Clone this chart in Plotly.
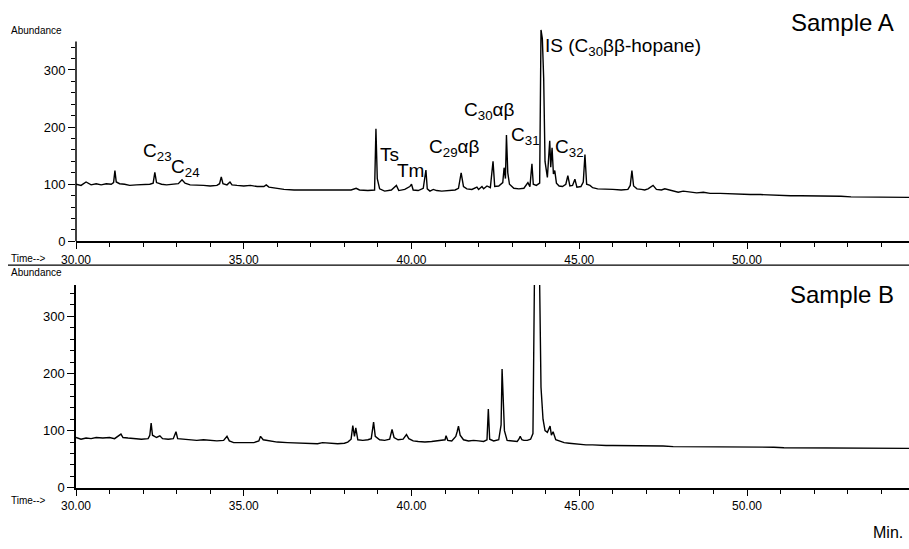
import plotly.graph_objects as go

# ---------------- data ----------------
time_a = [30.00, 30.15, 30.30, 30.45, 30.60, 30.75, 30.90, 31.05, 31.12, 31.16, 31.20, 31.30, 31.45, 31.60,
          31.80, 32.00, 32.20, 32.30, 32.35, 32.40, 32.55, 32.70, 32.90, 33.05, 33.16, 33.25, 33.40, 33.60,
          33.80, 34.00, 34.20, 34.28, 34.33, 34.38, 34.50, 34.59, 34.65, 34.80, 35.00, 35.20, 35.40, 35.60,
          35.67, 35.75, 35.95, 36.20, 36.50, 36.80, 37.10, 37.40, 37.70, 38.00, 38.20, 38.35, 38.45, 38.70,
          38.90, 38.94, 38.98, 39.05, 39.20, 39.40, 39.55, 39.62, 39.80, 39.95, 40.00, 40.05, 40.20, 40.35,
          40.43, 40.47, 40.55, 40.65, 40.75, 40.90, 41.10, 41.30, 41.40, 41.48, 41.55, 41.65, 41.80, 41.95,
          42.00, 42.10, 42.15, 42.25, 42.35, 42.43, 42.48, 42.60, 42.72, 42.76, 42.80, 42.83, 42.87, 42.92,
          43.05, 43.20, 43.35, 43.47, 43.53, 43.59, 43.63, 43.72, 43.82, 43.86, 43.90, 43.94, 43.98, 44.05,
          44.12, 44.15, 44.19, 44.23, 44.27, 44.32, 44.40, 44.50, 44.60, 44.66, 44.72, 44.80, 44.87, 44.93,
          45.05, 45.12, 45.17, 45.22, 45.32, 45.40, 45.55, 45.75, 46.00, 46.25, 46.45, 46.52, 46.57, 46.62,
          46.72, 46.85, 46.95, 47.05, 47.20, 47.30, 47.45, 47.55, 47.62, 47.75, 47.95, 48.10, 48.30, 48.50,
          48.70, 48.90, 49.20, 49.50, 49.80, 50.10, 50.40, 50.70, 51.00, 51.30, 51.60, 51.90, 52.20, 52.50,
          52.80, 53.10, 53.40, 53.70, 54.00, 54.30, 54.60, 54.83]
abund_a = [100, 98, 104, 99, 101, 99, 101, 100, 103, 124, 104, 101, 100, 98,
           99, 99, 100, 102, 121, 103, 100, 99, 100, 101, 108, 102, 99, 99,
           98, 97, 98, 101, 113, 101, 99, 104, 99, 98, 97, 98, 96, 96,
           99, 95, 93, 91, 90, 90, 89, 90, 89, 90, 90, 93, 90, 89,
           90, 197, 110, 92, 88, 90, 98, 89, 91, 96, 100, 90, 89, 93,
           125, 92, 88, 91, 89, 88, 89, 90, 93, 120, 96, 92, 91, 95,
           91, 96, 92, 97, 94, 140, 96, 97, 103, 129, 110, 186, 120, 100,
           93, 92, 93, 103, 96, 136, 100, 98, 102, 370, 355, 285, 140, 112,
           176, 130, 164, 118, 124, 102, 97, 96, 100, 115, 97, 98, 109, 95,
           96, 104, 152, 100, 98, 94, 92, 91, 91, 90, 91, 98, 124, 97,
           92, 91, 90, 92, 98, 91, 90, 92, 91, 88, 86, 88, 86, 85,
           86, 84, 84, 83, 83, 82, 82, 81, 81, 80, 80, 80, 79, 79,
           79, 78, 78, 78, 78, 77, 77, 77]

time_b = [30.00, 30.15, 30.30, 30.45, 30.60, 30.80, 31.00, 31.15, 31.34, 31.40, 31.55, 31.75, 31.95, 32.15,
          32.20, 32.24, 32.28, 32.40, 32.50, 32.58, 32.75, 32.90, 32.98, 33.03, 33.20, 33.40, 33.60, 33.80,
          34.00, 34.20, 34.40, 34.50, 34.57, 34.70, 35.00, 35.30, 35.45, 35.50, 35.58, 35.75, 36.00, 36.30,
          36.60, 36.90, 37.20, 37.35, 37.50, 37.80, 38.00, 38.10, 38.20, 38.25, 38.30, 38.34, 38.40, 38.55,
          38.70, 38.80, 38.87, 38.92, 39.05, 39.20, 39.35, 39.42, 39.48, 39.60, 39.75, 39.85, 39.92, 40.05,
          40.20, 40.40, 40.60, 40.80, 41.00, 41.03, 41.08, 41.20, 41.32, 41.36, 41.40, 41.45, 41.55, 41.70,
          41.85, 42.00, 42.15, 42.25, 42.29, 42.33, 42.45, 42.60, 42.67, 42.70, 42.73, 42.77, 42.85, 43.00,
          43.15, 43.20, 43.24, 43.29, 43.35, 43.45, 43.55, 43.62, 43.67, 43.81, 43.86, 43.92, 43.98, 44.05,
          44.10, 44.13, 44.17, 44.22, 44.30, 44.40, 44.55, 44.70, 44.85, 45.00, 45.20, 45.40, 45.60, 45.80,
          46.00, 46.30, 46.60, 46.90, 47.20, 47.50, 47.80, 48.10, 48.40, 48.70, 49.00, 49.30, 49.60, 49.90,
          50.20, 50.50, 50.80, 51.10, 51.40, 51.70, 52.00, 52.30, 52.60, 52.90, 53.20, 53.50, 53.80, 54.10,
          54.40, 54.83]
abund_b = [88, 85, 87, 86, 88, 87, 88, 86, 94, 88, 87, 86, 85, 86,
           92, 113, 92, 88, 91, 86, 85, 86, 98, 86, 85, 84, 83, 84,
           83, 82, 83, 90, 82, 79, 79, 79, 82, 90, 84, 82, 80, 79,
           78, 78, 77, 79, 78, 77, 78, 80, 85, 109, 90, 105, 84, 83,
           84, 86, 115, 90, 84, 83, 85, 102, 88, 84, 85, 93, 86, 82,
           81, 80, 81, 82, 84, 91, 83, 82, 90, 98, 108, 92, 84, 82,
           83, 82, 81, 84, 138, 85, 82, 84, 110, 208, 169, 100, 83, 82,
           81, 85, 90, 84, 83, 83, 85, 95, 400, 400, 176, 120, 100, 97,
           105, 108, 92, 98, 84, 82, 79, 78, 77, 76, 75, 75, 74, 74,
           74, 74, 73, 73, 73, 73, 72, 72, 72, 72, 72, 71, 71, 71,
           71, 71, 71, 70, 70, 70, 70, 70, 70, 70, 69, 69, 69, 69,
           69, 69]

x_major = [30, 35, 40, 45, 50]
x_major_text = ["30.00", "35.00", "40.00", "45.00", "50.00"]
x_minor = [v for v in range(31, 55) if v % 5 != 0]
y_major = [0, 100, 200, 300]
y_minor = [20, 40, 60, 80, 120, 140, 160, 180, 220, 240, 260, 280, 320, 340]

labels_a = [
    ("C<sub>23</sub>", 31.94, 157),
    ("C<sub>24</sub>", 32.77, 129),
    ("Ts", 39.00, 152),
    ("Tm", 39.51, 124),
    ("C<sub>29</sub>αβ", 40.46, 164),
    ("C<sub>30</sub>αβ", 41.50, 228),
    ("C<sub>31</sub>", 42.90, 184),
    ("IS (C<sub>30</sub>ββ-hopane)", 43.92, 341),
    ("C<sub>32</sub>", 44.22, 164),
]

# ---------------- figure ----------------
W, H = 909, 549
ML = 76
PW = W - ML
FONT = "Liberation Sans, Arial, sans-serif"


def px(xpix):
    return (xpix - ML) / PW


def py(ypix):
    return 1 - ypix / H


fig = go.Figure()
line = dict(color="black", width=1.4)
fig.add_trace(go.Scatter(x=time_a, y=abund_a, mode="lines", line=line, xaxis="x", yaxis="y",
                         showlegend=False, hoverinfo="x+y"))
fig.add_trace(go.Scatter(x=time_b, y=abund_b, mode="lines", line=line, xaxis="x2", yaxis="y2",
                         showlegend=False, hoverinfo="x+y"))

xrange = [30, 30 + PW / 33.55]


def xaxis(anchor):
    return dict(range=xrange, anchor=anchor, domain=[0, 1], showgrid=False, zeroline=False,
                showline=True, linecolor="black", linewidth=1.5,
                ticks="outside", ticklen=6, tickwidth=1.3, tickcolor="black",
                tickvals=x_major, ticktext=x_major_text,
                tickfont=dict(family=FONT, size=12, color="black"),
                minor=dict(tickvals=x_minor, ticks="outside", ticklen=4, tickwidth=1.2, tickcolor="black"))


def yaxis(anchor, domain, rng, showline):
    return dict(range=rng, anchor=anchor, domain=domain, showgrid=False, zeroline=False,
                showline=showline, linecolor="black", linewidth=1.5,
                ticks="outside", ticklen=7, tickwidth=1.3, tickcolor="black",
                tickvals=y_major, ticktext=[str(v) for v in y_major],
                tickfont=dict(family=FONT, size=13, color="black"),
                minor=dict(tickvals=y_minor, ticks="outside", ticklen=4, tickwidth=1.2, tickcolor="black"))


fig.update_layout(
    width=W, height=H,
    margin=dict(l=ML, r=0, t=0, b=0),
    paper_bgcolor="white", plot_bgcolor="white",
    xaxis=xaxis("y"),
    yaxis=yaxis("x", [py(245), py(245 - 372 * 0.58)], [0, 372], False),
    xaxis2=xaxis("y2"),
    yaxis2=yaxis("x2", [py(495), py(495 - 355 * 0.58)], [0, 355], True),
    font=dict(family=FONT, color="black"),
)

# y axis line of top panel (ends below the top of the plotting area, as in the original)
fig.add_shape(type="line", xref="x domain", yref="y", x0=0, x1=0, y0=0, y1=350,
              line=dict(color="black", width=1.5))
# separator line between the panels
fig.add_shape(type="line", xref="paper", yref="paper", x0=px(8), x1=1, y0=py(269), y1=py(269),
              line=dict(color="black", width=1.2))

ann = []
for text, t, v in labels_a:
    ann.append(dict(text=text, x=t, y=v, xref="x", yref="y", xanchor="left", yanchor="middle",
                    showarrow=False, font=dict(family=FONT, size=19, color="black")))

small = dict(family=FONT, size=10, color="black")
ann += [
    dict(text="Abundance", x=px(9), y=py(31), xref="paper", yref="paper", xanchor="left",
         yanchor="middle", showarrow=False, font=small),
    dict(text="Abundance", x=px(9), y=py(277), xref="paper", yref="paper", xanchor="left",
         yanchor="middle", showarrow=False, font=small),
    dict(text="Time-->", x=px(9), y=py(262), xref="paper", yref="paper", xanchor="left",
         yanchor="middle", showarrow=False, font=small),
    dict(text="Time-->", x=px(9), y=py(508), xref="paper", yref="paper", xanchor="left",
         yanchor="middle", showarrow=False, font=small),
    dict(text="Sample A", x=px(842), y=py(23), xref="paper", yref="paper", xanchor="center",
         yanchor="middle", showarrow=False, font=dict(family=FONT, size=24, color="black")),
    dict(text="Sample B", x=px(842), y=py(299), xref="paper", yref="paper", xanchor="center",
         yanchor="middle", showarrow=False, font=dict(family=FONT, size=24, color="black")),
    dict(text="Min.", x=px(905), y=py(540), xref="paper", yref="paper", xanchor="right",
         yanchor="middle", showarrow=False, font=dict(family=FONT, size=16, color="black")),
]
fig.update_layout(annotations=ann)

fig.write_html("out.html")
